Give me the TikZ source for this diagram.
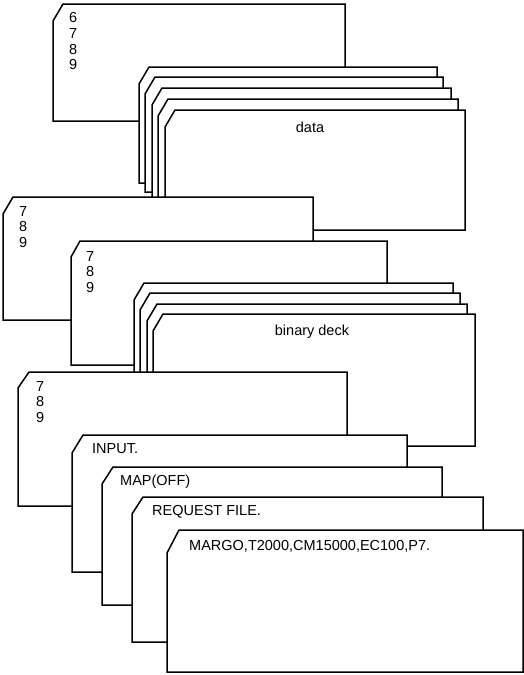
\documentclass[tikz,border=0pt]{standalone}
\usepackage{fontspec}
\setmainfont{Liberation Sans}
\tikzset{
  card/.style={draw, line width=1.5pt, fill=white, line join=miter},
  cut x/.store in=\cutx, cut y/.store in=\cuty,
  cut x=10, cut y=17,
  punch/.style={font=\fontsize{14.5}{15.6}\selectfont, inner sep=0pt, align=left},
  cardlabel/.style={font=\fontsize{14.5}{16}\selectfont, inner sep=0pt}
}
% card with clipped corner: left, top, right, bottom
\newcommand{\punchcard}[5][]{%
  \draw[card,#1] (#2,#3+\cuty) -- (#2+\cutx,#3) -- (#4,#3) -- (#4,#5) -- (#2,#5) -- cycle;}

\begin{document}
\begin{tikzpicture}[x=1pt,y=-1pt]
  \useasboundingbox (0,0) rectangle (524,675);
  % first deck
  \punchcard{53}{4}{345}{121}
  \node[punch,anchor=north west] (eorA) at (69,12.5) {6\\7\\8\\9};
  \foreach \l/\t/\r/\b in {139/67/437/183, 145/77/443/192, 152/88/451/203, 158/99/458/214, 165/110/465/230}
    {\punchcard{\l}{\t}{\r}{\b}}
  \node[cardlabel,anchor=base] (data) at (310,132) {data};
  % second deck
  \punchcard{3}{197}{313}{320}
  \node[punch,anchor=north west] (eorB) at (19,206) {7\\8\\9};
  \punchcard[cut x=9,cut y=16]{71}{241}{387}{365}
  \node[punch,anchor=north west] (eorC) at (86,251) {7\\8\\9};
  \foreach \l/\t/\r/\b in {134/283/453/415, 140/293/460/425, 147/304/467/435, 153/314/475/446}
    {\punchcard{\l}{\t}{\r}{\b}}
  \node[cardlabel,anchor=base] (binary) at (312,335) {binary deck};
  % control cards
  \punchcard[cut x=11,cut y=16]{18}{372}{347}{506}
  \node[punch,anchor=north west] (eorD) at (36,381) {7\\8\\9};
  \punchcard[cut x=11,cut y=18]{72}{435}{407}{572}
  \node[cardlabel,anchor=base west] (input) at (92,453.5) {INPUT.};
  \punchcard[cut x=11,cut y=17]{102}{467}{442}{605}
  \node[cardlabel,anchor=base west] (map) at (120,485.5) {MAP(OFF)};
  \punchcard[cut x=11,cut y=17]{132}{497}{483}{642}
  \node[cardlabel,anchor=base west] (request) at (152,515) {REQUEST FILE.};
  \punchcard[cut x=12,cut y=23]{167}{530}{523}{672}
  \node[cardlabel,anchor=base west] (margo) at (189,550) {MARGO,T2000,CM15000,EC100,P7.};
\end{tikzpicture}
\end{document}
